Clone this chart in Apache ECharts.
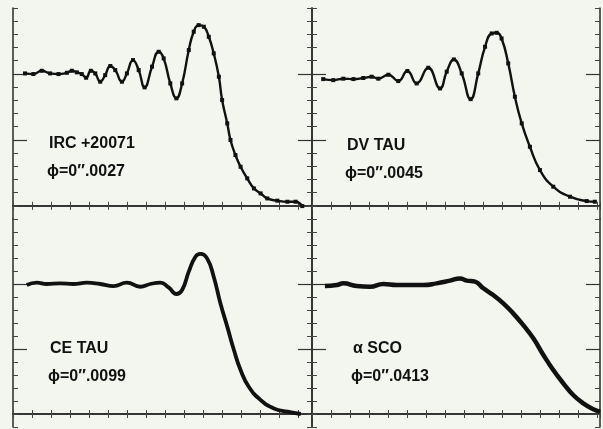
<!DOCTYPE html>
<html><head><meta charset="utf-8">
<script src="https://cdn.jsdelivr.net/npm/echarts@6/dist/echarts.min.js"></script>
<style>html,body{margin:0;padding:0;background:#f3f6ef}#c{width:603px;height:429px}</style>
</head><body><div id="c"></div>
<script>
// Panel labels
const names = ['IRC +20071', 'DV TAU', 'CE TAU', 'α SCO'];
const phis = ['ϕ=0\u2033.0027', 'ϕ=0\u2033.0045', 'ϕ=0\u2033.0099', 'ϕ=0\u2033.0413'];

// IRC +20071 (top-left): time (arbitrary units) and normalized intensity
const tlX = [6.3,10.7,15.1,19.5,23.9,28.3,30.9,33.5,36.1,38.4,40.9,43.2,45.8,48.4,51.1,53.7,57.2,59.8,63.0,66.0,69.1,73.0,76.5,79.1,82.6,85.8,88.8,92.3,94.9,97.5,100.2,102.8,105.4,108.1,109.8,112.5,114.2,116.8,119.5,123.0,126.5,130.0,133.5,138.8,144.1,148.4,151.9];
const tlY = [1.004,0.999,1.024,1.004,0.999,1.009,1.024,1.012,0.999,0.971,1.024,1.004,0.941,0.991,1.060,1.029,0.941,1.004,1.105,1.029,0.898,1.055,1.168,1.118,0.928,0.815,0.928,1.181,1.320,1.370,1.358,1.282,1.156,0.979,0.802,0.625,0.499,0.385,0.296,0.208,0.132,0.094,0.056,0.039,0.031,0.031,-0.002];

// DV TAU (top-right)
const trX = [5.9,11.2,16.5,21.8,27.0,31.4,34.9,40.2,45.4,50.2,55.1,61.2,67.4,70.9,74.7,78.8,83.5,87.5,91.1,94.6,97.2,99.8,103.3,106.8,110.4,114.7,120.0,127.0,135.8,144.6,148.9];
const trY = [0.961,0.953,0.964,0.961,0.969,0.979,0.964,0.994,0.946,1.022,0.928,1.047,0.890,1.017,1.110,1.004,0.809,1.004,1.206,1.307,1.312,1.269,1.080,0.827,0.625,0.448,0.271,0.145,0.069,0.036,0.031];

// CE TAU (bottom-left)
const blX = [7.2,12.5,17.7,24.7,31.7,38.8,45.8,52.8,59.8,66.8,72.1,77.4,81.7,85.8,88.8,92.3,95.8,98.4,101.9,105.4,108.9,112.5,116.0,119.5,123.8,130.0,137.0,144.1,151.1];
const blY = [0.992,1.010,1.000,1.005,1.000,1.010,1.000,0.984,1.010,0.979,1.000,1.010,0.974,0.923,0.954,1.095,1.210,1.231,1.197,1.056,0.851,0.672,0.492,0.338,0.210,0.108,0.043,0.018,0.000];

// alpha SCO (bottom-right)
const brX = [6.8,13.0,16.5,23.5,30.5,37.5,44.6,51.6,58.6,65.6,72.6,77.9,81.4,85.8,90.2,95.4,100.7,105.9,111.2,116.5,121.8,127.0,132.3,137.5,142.8,148.1,151.6];
const brY = [0.984,0.992,1.005,0.984,0.979,1.000,0.992,0.992,0.992,1.005,1.026,1.043,1.026,1.018,0.967,0.915,0.851,0.774,0.684,0.582,0.454,0.338,0.236,0.146,0.082,0.036,0.018];

const panels = [
  {x: tlX, y: tlY, grid: {left: 13, top: 8, width: 299, height: 211}, xmax: 157, lw: 2.4, sym: 4, tx: 49, ty: 148},
  {x: trX, y: trY, grid: {left: 312, top: 8, width: 288, height: 211}, xmax: 151.6, lw: 2.4, sym: 4, tx: 347, ty: 150},
  {x: blX, y: blY, grid: {left: 13, top: 219, width: 299, height: 208}, xmax: 157, lw: 3.8, sym: 0, tx: 50, ty: 353},
  {x: brX, y: brY, grid: {left: 312, top: 219, width: 288, height: 208}, xmax: 151.6, lw: 4.5, sym: 0, tx: 353, ty: 353}
];

const axisLine = {show: true, lineStyle: {color: '#2a2a2a', width: 1.5}};
const grids = [], xAxes = [], yAxes = [], series = [], graphics = [];
const font = 'bold 16px "Liberation Sans", Arial, sans-serif';
panels.forEach((p, i) => {
  grids.push(Object.assign({containLabel: false}, p.grid));
  ['bottom', 'top'].forEach(pos => {
    xAxes.push({type: 'value', gridIndex: i, position: pos, min: 0, max: p.xmax, interval: 10,
      axisLine: axisLine, axisLabel: {show: false}, splitLine: {show: false},
      axisTick: {show: true, inside: true, length: 4, lineStyle: {color: '#444', width: 1}}});
  });
  ['left', 'right'].forEach(pos => {
    yAxes.push({type: 'value', gridIndex: i, position: pos, min: -0.1, max: 1.5, interval: 0.1,
      axisLine: axisLine, axisLabel: {show: false}, splitLine: {show: false},
      axisTick: {show: true, inside: true, length: 5, lineStyle: {color: '#444', width: 1}}});
    yAxes.push({type: 'value', gridIndex: i, position: pos, min: -0.1, max: 1.5,
      axisLine: {show: false}, axisLabel: {show: false}, splitLine: {show: false},
      axisTick: {show: true, inside: true, length: 14, customValues: [0.5, 1.0], lineStyle: {color: '#333', width: 1.2}}});
  });
  series.push({type: 'line', xAxisIndex: i * 2, yAxisIndex: i * 4,
    data: p.x.map((v, k) => [v, p.y[k]]),
    smooth: 0.5,
    showSymbol: p.sym > 0, symbol: 'rect', symbolSize: p.sym,
    itemStyle: {color: '#111'}, lineStyle: {color: '#111', width: p.lw},
    silent: true, animation: false});
  graphics.push({type: 'text', left: p.tx, top: p.ty - 12, style: {text: names[i], font: font, fill: '#111'}});
  graphics.push({type: 'text', left: p.tx - 2, top: p.ty + 16, style: {text: phis[i], font: font, fill: '#111'}});
});

const chart = echarts.init(document.getElementById('c'), null, {renderer: 'canvas'});
chart.setOption({
  backgroundColor: '#f3f6ef',
  animation: false,
  grid: grids, xAxis: xAxes, yAxis: yAxes, series: series, graphic: graphics
});
</script></body></html>
